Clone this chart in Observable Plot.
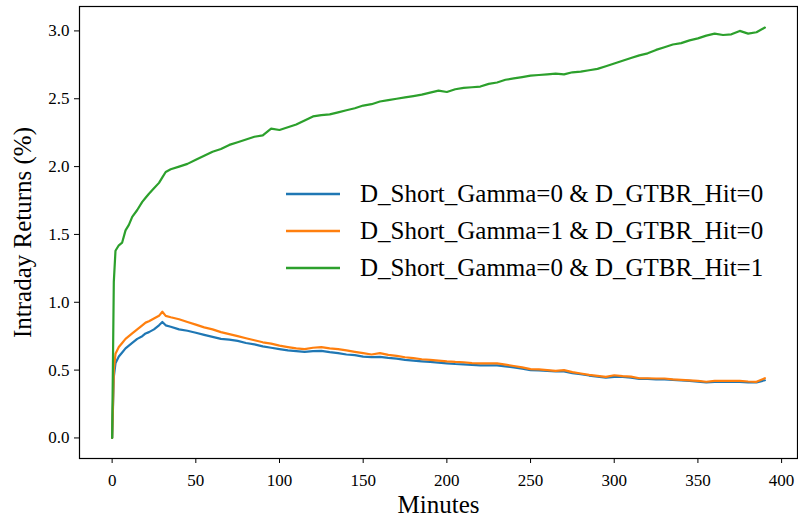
<!DOCTYPE html>
<html>
<head>
<meta charset="utf-8">
<script src="https://cdn.jsdelivr.net/npm/d3@7"></script>
<script src="https://cdn.jsdelivr.net/npm/@observablehq/plot@0.6"></script>
<style>
  html, body { margin: 0; padding: 0; background: #fff; }
  #wrap { position: relative; width: 798px; height: 521px; font-family: "Liberation Serif", "Times New Roman", serif; }
  #legend { position: absolute; left: 286px; top: 175px; }
  .row { display: flex; align-items: center; height: 37px; font-size: 25px; color: #000; white-space: nowrap; }
  .row svg { margin-right: 20px; }
</style>
</head>
<body>
<div id="wrap"></div>
<script>
const seriesNames = [
  "D_Short_Gamma=0 & D_GTBR_Hit=0",
  "D_Short_Gamma=1 & D_GTBR_Hit=0",
  "D_Short_Gamma=0 & D_GTBR_Hit=1"
];
const seriesColors = ["#1f77b4", "#ff7f0e", "#2ca02c"];

const minutes = [0,1,2,4,6,8,10,12,15,18,20,22,25,28,30,32,35,40,45,50,55,60,65,70,75,80,85,90,95,100,
  105,110,115,120,125,130,135,140,145,150,155,160,165,170,175,180,185,190,195,200,205,210,215,220,225,230,
  235,240,245,250,255,260,265,270,275,280,285,290,295,300,305,310,315,320,325,330,335,340,345,350,355,360,
  365,370,375,380,385,390];

const blue = [0,0.45,0.55,0.60,0.63,0.66,0.68,0.70,0.73,0.75,0.77,0.78,0.80,0.83,0.855,0.83,0.82,0.80,0.79,0.775,
  0.76,0.745,0.73,0.725,0.715,0.70,0.69,0.675,0.665,0.655,0.645,0.64,0.635,0.64,0.642,0.632,0.625,0.615,0.61,0.60,
  0.595,0.598,0.59,0.585,0.575,0.57,0.565,0.56,0.555,0.55,0.545,0.542,0.538,0.535,0.535,0.535,0.528,0.52,0.51,0.50,
  0.498,0.495,0.49,0.49,0.478,0.47,0.46,0.452,0.445,0.45,0.45,0.445,0.435,0.435,0.432,0.432,0.428,0.424,0.42,0.415,
  0.41,0.413,0.413,0.413,0.413,0.41,0.41,0.425];

const orange = [0,0.50,0.62,0.67,0.70,0.73,0.75,0.77,0.80,0.83,0.85,0.86,0.88,0.90,0.93,0.90,0.89,0.875,0.855,0.835,
  0.815,0.80,0.78,0.765,0.75,0.735,0.72,0.705,0.695,0.68,0.67,0.66,0.655,0.665,0.67,0.66,0.655,0.645,0.635,0.625,
  0.615,0.625,0.612,0.605,0.595,0.588,0.58,0.576,0.57,0.564,0.56,0.558,0.552,0.549,0.55,0.55,0.54,0.53,0.52,0.507,
  0.505,0.50,0.495,0.50,0.485,0.475,0.465,0.458,0.45,0.462,0.455,0.452,0.44,0.44,0.438,0.438,0.432,0.428,0.424,0.42,
  0.414,0.42,0.42,0.42,0.42,0.416,0.414,0.44];

const green = [0,1.15,1.38,1.42,1.44,1.53,1.57,1.63,1.68,1.74,1.77,1.80,1.84,1.88,1.92,1.96,1.98,2.00,2.02,2.05,
  2.08,2.11,2.13,2.16,2.18,2.20,2.22,2.23,2.28,2.27,2.29,2.31,2.34,2.37,2.38,2.385,2.40,2.415,2.43,2.45,
  2.46,2.48,2.49,2.50,2.51,2.52,2.53,2.545,2.56,2.55,2.57,2.58,2.585,2.59,2.61,2.62,2.64,2.65,2.66,2.67,
  2.675,2.68,2.685,2.68,2.695,2.70,2.71,2.72,2.74,2.76,2.78,2.80,2.82,2.835,2.86,2.88,2.90,2.91,2.93,2.945,
  2.965,2.98,2.97,2.975,3.0,2.98,2.99,3.025];

const xTicks = [0,50,100,150,200,250,300,350,400];
const yTicks = [0,0.5,1.0,1.5,2.0,2.5,3.0];
const xLabel = "Minutes";
const yLabel = "Intraday Returns (%)";

const seriesValues = [blue, orange, green];
const rows = [];
seriesValues.forEach((vals, i) => {
  minutes.forEach((m, j) => rows.push({minute: m, value: vals[j], series: seriesNames[i]}));
});

const chart = Plot.plot({
  width: 798,
  height: 521,
  marginLeft: 79,
  marginRight: 1,
  marginTop: 6,
  marginBottom: 63,
  style: {fontFamily: "'Liberation Serif', 'Times New Roman', serif", fontSize: "17px", color: "#000", background: "#fff"},
  x: {domain: [-19.5, 409.5]},
  y: {domain: [-0.1515, 3.18]},
  color: {domain: seriesNames, range: seriesColors},
  marks: [
    Plot.axisX({ticks: xTicks, tickSize: 5, tickPadding: 10, label: null, tickFormat: d => String(d), fontSize: 17}),
    Plot.axisY({ticks: yTicks, tickSize: 5, tickPadding: 5, label: null, tickFormat: d => d.toFixed(1), fontSize: 17}),
    Plot.line(rows, {x: "minute", y: "value", z: "series", stroke: "series", strokeWidth: 2.2}),
    Plot.frame({stroke: "#000", strokeWidth: 1.2}),
    Plot.text([xLabel], {frameAnchor: "bottom", textAnchor: "middle", lineAnchor: "middle", dy: 46, fontSize: 25, fill: "#000"}),
    Plot.text([yLabel], {frameAnchor: "left", textAnchor: "middle", lineAnchor: "middle", dx: -57, rotate: -90, fontSize: 25, fill: "#000"})
  ]
});

const wrap = document.getElementById("wrap");
wrap.appendChild(chart);

const legend = document.createElement("div");
legend.id = "legend";
seriesNames.forEach((name, i) => {
  const row = document.createElement("div");
  row.className = "row";
  row.innerHTML = `<svg width="54" height="6"><line x1="0" x2="54" y1="3" y2="3" stroke="${seriesColors[i]}" stroke-width="2.4"/></svg><span>${name.replace(/&/g, "&amp;")}</span>`;
  legend.appendChild(row);
});
wrap.appendChild(legend);
</script>
</body>
</html>
